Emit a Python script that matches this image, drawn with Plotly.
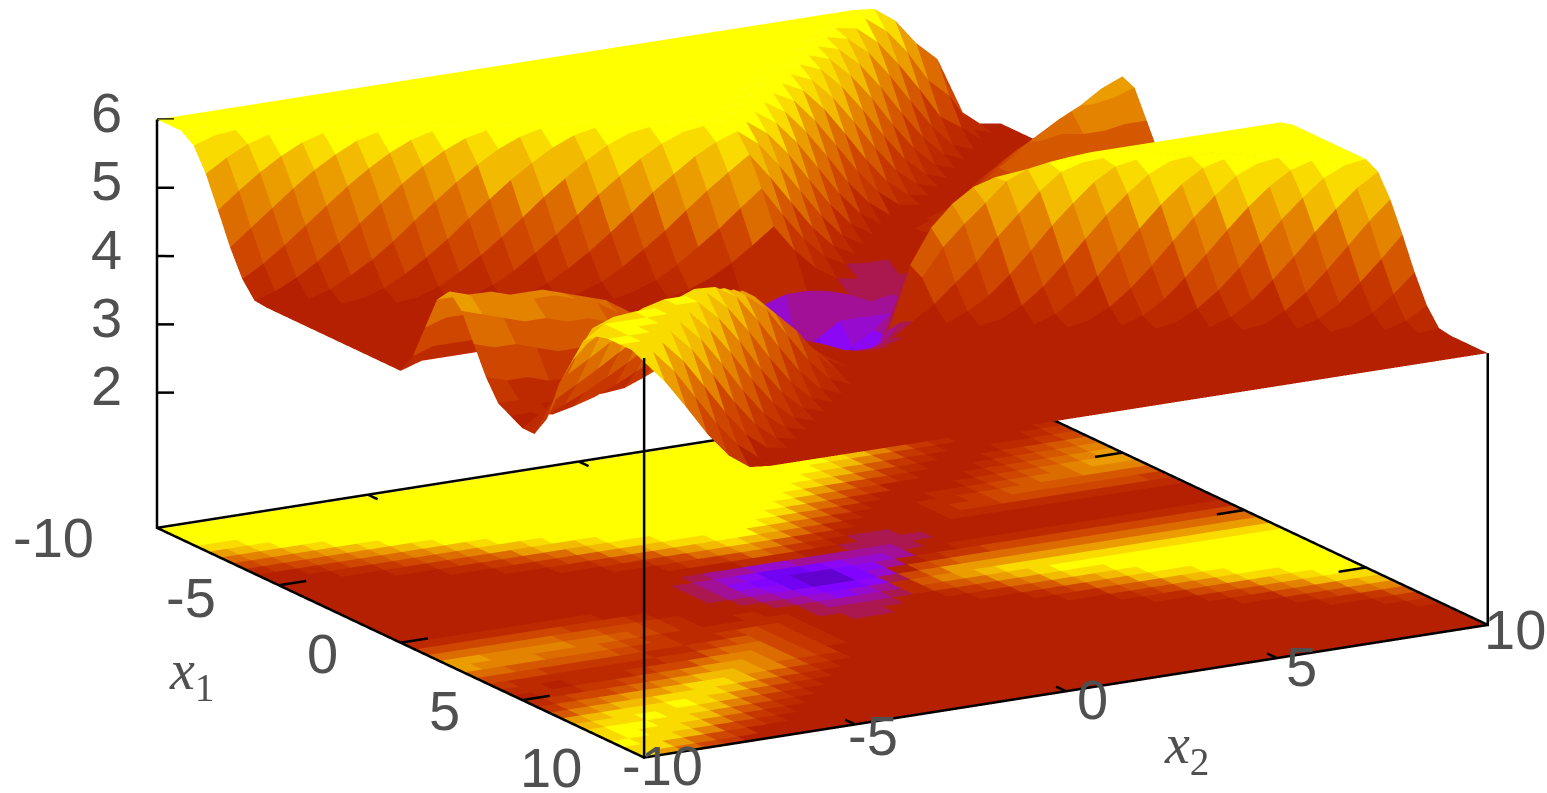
import numpy as np
import plotly.graph_objects as go

x1_grid = [-10 + 0.5 * n for n in range(41)]
x2_grid = [-10 + 0.5 * n for n in range(41)]

# one list per x2 value, each running along x1 from -10 to 10
z_by_x2 = [
 [6,6,6,5.87,5.54, 5.09,4.63,4.25,4.02,4, 4,4,4,4,4, 4,4,4,4,4, 4,4.3,4.8,5.3,5.5, 5.3,4.9,4.5,4.2,4.1, 4,4,4.3,4.9,5.3, 5.7,5.85,5.9,5.9,5.9, 5.87],
 [6,6,6,5.97,5.73, 5.33,4.87,4.43,4.11,4, 4,4,4,4,4, 4,4,4,4,4, 4.1,4.4,4.9,5.3,5.4, 5.2,4.8,4.4,4.2,4.1, 4.13,4.46,4.91,5.37,5.75, 5.9,5.9,5.9,5.9,5.83, 5.47],
 [6,6,6,6,5.88, 5.55,5.11,4.65,4.26,4.03, 4,4,4,4,4, 4,4,4,4,4, 4.1,4.4,4.9,5.2,5.4, 5.1,4.8,4.4,4.1,4.02, 4.25,4.63,5.09,5.54,5.87, 5.9,5.9,5.9,5.84,5.5, 5.05],
 [6,6,6,6,5.97, 5.74,5.35,4.89,4.45,4.12, 4,4,4,4,4, 4,4,4,4,4, 4.1,4.4,4.9,5.2,5.3, 5,4.7,4.3,4.1,4.09, 4.39,4.81,5.28,5.69,5.9, 5.9,5.9,5.86,5.52,5.07, 4.61],
 [6,6,6,6,6, 5.89,5.57,5.13,4.67,4.28, 4.03,4,4,4,4, 4,4,4,4,4, 4.1,4.5,4.9,5.2,5.2, 5,4.6,4.3,4.1,4.18, 4.55,5,5.45,5.82,5.9, 5.9,5.87,5.55,5.1,4.64, 4.25],
 [6,6,6,6,6, 5.98,5.75,5.37,4.91,4.46, 4.13,4,4,4,4, 4,4,4,4,4, 4.1,4.4,4.8,5.2,5.2, 4.9,4.6,4.3,4.1,4.31, 4.72,5.19,5.61,5.9,5.9, 5.89,5.57,5.13,4.67,4.28, 4.03],
 [6,6,6,6,6, 6,5.9,5.58,5.15,4.68, 4.29,4.03,4,4,4, 4,4,4,4,4, 4.1,4.4,4.8,5.1,5.1, 4.9,4.6,4.2,4.13,4.46, 4.91,5.37,5.75,5.9,5.9, 5.58,5.16,4.69,4.29,4.04, 4],
 [6,6,6,6,6, 6,5.98,5.76,5.39,4.93, 4.48,4.14,4,4,4, 4,4,4,4,4, 4.1,4.3,4.7,5,5, 4.8,4.5,4.2,4.25,4.63, 5.09,5.54,5.87,5.9,5.61, 5.19,4.72,4.31,4.05,4, 4],
 [6,6,6,6,6, 6,6,5.9,5.6,5.17, 4.7,4.3,4.04,4,4, 4,4,4,4,4, 4.1,4.3,4.6,4.9,4.8, 4.6,4.4,4.2,4.39,4.81, 5.28,5.69,5.85,5.63,5.22, 4.75,4.33,4.06,4,4, 4],
 [6,6,6,6,6, 6,6,5.98,5.78,5.4, 4.95,4.5,4.15,4,4, 4,4,4,4,4, 4,4.2,4.5,4.7,4.6, 4.5,4.3,4.2,4.55,5, 5.45,5.7,5.66,5.24,4.77, 4.36,4.08,4,4,4, 4],
 [6,6,6,6,6, 6,6,6,5.91,5.61, 5.19,4.72,4.31,4.05,4, 4,4,4,4,4, 4,4.2,4.4,4.5,4.4, 4.3,4.2,4.39,4.81,5.28, 5.55,5.55,5.27,4.8,4.38, 4.09,4,4,4,4, 4],
 [6,6,6,6,6, 6,6,6,5.98,5.79, 5.42,4.96,4.52,4.16,4, 4,4,4,4,4, 4,4.1,4.2,4.3,4.2, 4.2,4.25,4.63,5.09,5.4, 5.4,5.3,4.83,4.4,4.1, 4,4,4,4,4, 4],
 [6,6,6,6,6, 6,6,6,6,5.92, 5.62,5.21,4.74,4.33,4.06, 4,4,4,4,4, 4,4,4.1,4.1,4.1, 4.13,4.46,4.91,5.1,5.1, 5.1,4.86,4.42,4.11,4, 4,4,4,4,4, 4],
 [6,6,6,6,6, 6,6,6,6,5.99, 5.8,5.43,4.98,4.53,4.17, 4,4,4,4,3.95, 4,4,4,4,4.05, 4.31,4.72,4.8,4.8,4.8, 4.8,4.45,4.12,4,4, 4,4,4,4,4, 4],
 [6,6,6,6,6, 6,6,6,6,6, 5.93,5.64,5.23,4.76,4.34, 4.07,4,3.95,3.9,3.8, 3.85,3.9,4,4.01,4.18, 4.5,4.5,4.5,4.5,4.5, 4.4,4.13,4,4,4, 4,4,4,4,4, 4],
 [6,6,6,6,6, 6,6,6,6,6, 5.99,5.82,5.45,5,4.55, 4.18,4.01,3.95,3.8,3.65, 3.7,3.85,3.95,4,4.25, 4.25,4.25,4.25,4.25,4.2, 4.1,4,4,4,4, 4,4,4,4,4, 4],
 [6,6,6,6,6, 6,6,6,6,6, 6,5.94,5.66,5.25,4.77, 4.36,4.08,3.9,3.6,3.45, 3.5,3.65,3.8,3.95,4.05, 4.05,4.05,4.05,4.05,4.03, 4,4,4,4,4, 4,4,4,4,4, 4],
 [6,6,6,6,6, 6,6,6,6,6, 6,5.99,5.83,5.47,5.02, 4.57,4.2,3.9,3.4,3.15, 3.1,3.3,3.6,3.8,3.9, 4,4,4,4,4, 4,4,4,4,4, 4,4,4,4,4, 4],
 [6,6,6,6,6, 6,6,6,6,6, 6,6,5.95,5.68,5.26, 4.79,4.37,3.85,3.1,2.8, 2.9,3.1,3.4,3.6,3.7, 3.8,3.9,4,4,4, 4,4,4,4,4, 4,4,4,4,4, 4],
 [6,6,6,6,6, 6,6,6,6,6, 6,6,5.99,5.84,5.48, 5.04,4.58,3.8,3.05,2.6, 2.6,2.9,3.2,3.5,3.7, 3.8,3.9,4,4,4, 4,4,4,4,4, 4,4,4,4,4, 4],
 [6,6,6,6,6, 6,6,6,6,6, 6,6,6,5.95,5.69, 5.28,4.81,3.9,3.1,2.7, 2.4,2.6,3,3.4,3.7, 3.8,3.9,4,4,4, 4,4,4,4,4, 4,4,4,4,4, 4],
 [6,6,6,6,6, 6,6,6,6,6, 6,6,5.96,5.72,5.31, 4.85,4.41,3.9,3.3,2.9, 2.6,2.9,3.3,3.6,3.8, 3.9,4,4,4,4, 4,4,4,4,4, 4,4,4,4,4, 4],
 [6,6,6,6,6, 6,6,6,6,6, 6,5.97,5.74,5.35,4.89, 4.45,4.1,3.85,3.5,3.2, 3,3.3,3.7,3.9,4, 4,4,4,4,4, 4,4,4,4,4, 4,4,4,4,4, 4],
 [6,6,6,6,6, 6,6,6,6,6, 5.98,5.76,5.39,4.93,4.48, 4.14,3.9,3.75,3.5,3.4, 3.4,3.9,4.6,4.5,4.2, 4,4,4,4,4, 4,4,4,4,4, 4,4,4,4,4, 4],
 [6,6,6,6,6, 6,6,6,6,5.98, 5.79,5.42,4.96,4.52,4.16, 3.98,3.85,3.6,3.45,3.6, 3.9,4.7,5.1,4.9,4.46, 4.13,4,4,4,4, 4,4,4,4,4, 4,4,4,4,4, 4],
 [6,6,6,6,6, 6,6,6,5.99,5.82, 5.45,5,4.55,4.18,4, 3.95,3.75,3.65,3.7,4, 4.4,5.1,5.4,5.19,4.72, 4.31,4.05,4,4,4, 4,4,4,4,4, 4,4,4,4,4, 4],
 [6,6,6,6,6, 6,6,5.99,5.84,5.48, 5.04,4.58,4.21,4,4, 3.95,3.8,3.85,3.95,4.1, 4.6,5.2,5.6,5.45,5.04, 4.57,4.2,4.01,4,4, 4,4,4,4,4, 4,4,4,4,4, 4],
 [6,6,6,6,6, 6,6,5.86,5.52,5.07, 4.61,4.24,4.02,4,4, 3.97,3.9,3.95,4,4.2, 4.7,5.28,5.69,5.72,5.33, 4.87,4.43,4.11,4,4, 4,4,4,4,4, 4,4,4,4,4, 4],
 [6,6,6,6,6, 6,5.88,5.55,5.11,4.65, 4.26,4.03,4,4,4, 4,4,4,4.03,4.3, 4.75,5.28,5.69,5.85,5.61, 5.19,4.72,4.31,4.05,4, 4,4,4,4,4, 4,4,4,4,4, 4],
 [6,6,6,6,6, 5.9,5.58,5.15,4.68,4.29, 4.03,4,4,4.03,4.1, 4.03,4,4,4.03,4.3, 4.81,5.28,5.69,5.9,5.84, 5.47,5.03,4.57,4.2,4.01, 4,4,4,4,4, 4,4,4,4,4, 4],
 [6,6,6,6,5.91, 5.61,5.19,4.72,4.31,4.05, 4,4,4.1,4.3,4.35, 4.05,4,4,4.05,4.35, 4.81,5.28,5.69,5.93,5.93, 5.73,5.33,4.87,4.43,4.11, 4,4,4,4,4, 4,4,4,4,4, 4],
 [6,6,6,5.93,5.64, 5.23,4.76,4.34,4.07,4, 4,4.07,4.27,4.5,4.4, 4.05,4,4,4.09,4.39, 4.81,5.28,5.69,5.95,5.95, 5.91,5.6,5.17,4.71,4.3, 4.05,4,4,4,4, 4,4,4,4,4, 4],
 [6,6,5.95,5.68,5.26, 4.79,4.37,4.09,4,4, 4,4.25,4.5,4.7,4.4, 4.1,4,4,4.09,4.39, 4.81,5.28,5.69,5.95,5.97, 5.96,5.83,5.47,5.02,4.57, 4.2,4.01,4,4,4, 4,4,4,4,4, 4],
 [6,5.96,5.7,5.3,4.83, 4.4,4.1,4,4,4.02, 4.3,4.5,4.7,4.7,4.35, 4.1,4,4,4.09,4.39, 4.81,5.28,5.69,5.95,6, 6,5.97,5.72,5.32,4.86, 4.42,4.11,4,4,4, 4,4,4,4,4, 4],
 [5.97,5.73,5.33,4.87,4.43, 4.11,4,4,4.02,4.25, 4.5,4.7,4.9,4.7,4.35, 4.1,4,4,4.09,4.39, 4.81,5.28,5.69,5.95,6, 6,6,5.91,5.59,5.17, 4.7,4.3,4.04,4,4, 4,4,4,4,4, 4],
 [5.75,5.37,4.91,4.46,4.13, 4,4,4,4.2,4.45, 4.7,4.9,5,4.7,4.35, 4.1,4,4,4.09,4.39, 4.81,5.28,5.69,5.95,6, 6,6,5.99,5.83,5.46, 5.01,4.56,4.19,4.01,4, 4,4,4,4,4, 4],
 [5.37,4.91,4.46,4.13,4, 4,4,4.15,4.4,4.65, 4.85,5.05,5.05,4.75,4.4, 4.15,4,4,4.09,4.39, 4.81,5.28,5.69,5.95,6, 6,6,6,5.96,5.71, 5.31,4.85,4.41,4.11,4, 4,4,4,4,4, 4],
 [5.09,4.63,4.25,4.02,4, 4,4.1,4.35,4.6,4.8, 5.05,5.25,5,4.75,4.4, 4.15,4,4,4.09,4.39, 4.81,5.28,5.69,5.95,6, 6,6,6,6,5.9, 5.58,5.16,4.69,4.29,4.04, 4,4,4,4,4, 4],
 [4.3,4.1,4,4,4, 4,4.25,4.5,4.7,4.95, 5.2,5.3,5,4.7,4.4, 4.15,4,4,4.09,4.39, 4.81,5.28,5.69,5.95,6, 6,6,6,6,5.99, 5.82,5.45,5,4.55,4.18, 4.01,4,4,4,4, 4],
 [4.05,4,4,4,4.05, 4.25,4.5,4.7,4.95,5.15, 5.4,5.35,5.05,4.7,4.35, 4.15,4.03,4,4.09,4.39, 4.81,5.28,5.69,5.95,6, 6,6,6,6,6, 5.96,5.71,5.31,4.84,4.41, 4.1,4,4,4,4, 4],
 [4,4,4,4,4.2, 4.45,4.65,4.9,5.1,5.32, 5.53,5.45,5.05,4.65,4.3, 4.1,4.03,4,4.09,4.39, 4.81,5.28,5.69,5.95,6, 6,6,6,6,6, 6,5.9,5.58,5.15,4.68, 4.28,4.03,4,4,4, 4],
]

z_ticks = [2, 3, 4, 5, 6]
x1_ticks = [-5, 0, 5]
x2_ticks = [-5, 0, 5]
x1_labels = ["-10", "-5", "0", "5", "10"]
x2_labels = ["-10", "-5", "0", "5", "10"]
x1_label_vals = [-10, -5, 0, 5, 10]
x2_label_vals = [-10, -5, 0, 5, 10]

Z = np.array(z_by_x2, dtype=float)  # [x2, x1]
nx2, nx1 = Z.shape


def palette(v):
    t = np.clip((v - 2.0) / 4.0, 0, 1)
    r = np.sqrt(t)
    g = t ** 3
    b = np.clip(np.sin(2 * np.pi * t), 0, 1)
    return "#%02x%02x%02x" % (round(r * 255), round(g * 255), round(b * 255))


X1, X2 = np.meshgrid(x1_grid, x2_grid)
vx, vy, vz = X1.ravel(), X2.ravel(), Z.ravel()
ii, jj, kk, fc = [], [], [], []
STEP = 0.2
for a in range(nx2 - 1):
    for b in range(nx1 - 1):
        p = a * nx1 + b
        q = p + 1
        r = p + nx1
        s = r + 1
        m = np.mean([vz[p], vz[q], vz[r], vz[s]])
        col = palette(round(m / STEP) * STEP)
        for tri in ((p, q, s), (p, s, r)):
            ii.append(tri[0]); jj.append(tri[1]); kk.append(tri[2])
            fc.append(col)

flat = dict(ambient=1, diffuse=0, specular=0, roughness=1, fresnel=0)
fig = go.Figure()
fig.add_trace(go.Mesh3d(x=vx, y=vy, z=vz, i=ii, j=jj, k=kk, facecolor=fc,
                        flatshading=True, lighting=flat, hoverinfo="skip", showscale=False))
fig.add_trace(go.Mesh3d(x=vx, y=vy, z=np.zeros_like(vz), i=ii, j=jj, k=kk, facecolor=fc,
                        flatshading=True, lighting=flat, hoverinfo="skip", showscale=False))

# frame, verticals and ticks
lx, ly, lz = [], [], []


def seg(p0, p1):
    lx.extend([p0[0], p1[0], None]); ly.extend([p0[1], p1[1], None]); lz.extend([p0[2], p1[2], None])


B = 0.02
seg((-10, -10, B), (10, -10, B))
seg((10, -10, B), (10, 10, B))
seg((10, 10, B), (-10, 10, B))
seg((-10, 10, B), (-10, -10, B))
seg((-10, -10, 0), (-10, -10, float(Z[0, 0])))
seg((10, -10, 0), (10, -10, float(Z[0, -1])))
seg((10, 10, 0), (10, 10, float(Z[-1, -1])))
for t in x1_ticks:
    seg((t, -10, B), (t, -9.35, B))
    seg((t, 10, B), (t, 9.35, B))
for t in x2_ticks:
    seg((10, t, B), (9.6, t, B))
    seg((-10, t, B), (-9.6, t, B))
for t in z_ticks:
    seg((-10, -10, t), (-9.82, -9.7, t))
fig.add_trace(go.Scatter3d(x=lx, y=ly, z=lz, mode="lines", line=dict(color="black", width=5),
                           hoverinfo="skip", showlegend=False))

GRAY = "#505050"
SANS = dict(family="Liberation Sans, Arial, sans-serif", size=56, color=GRAY)
SERIF = dict(family="Liberation Serif, DejaVu Serif, serif", size=56, color=GRAY)
ann = []


def label(x, y, z, text, dx, dy, font=SANS):
    ann.append(dict(x=x, y=y, z=z, text=text, showarrow=False, xshift=dx, yshift=-dy,
                    xanchor="center", yanchor="middle", font=font))


for t in z_ticks:
    label(-10, -10, t, str(t), -50, -7)
x1_shift = [(-103, 8), (-88, 11), (-78, 9), (-78, 9), (-93, 9)]
x2_shift = [(18, 7), (18, 10), (27, 7), (25, 7), (27, 3)]
for v, s, d in zip(x1_label_vals, x1_labels, x1_shift):
    label(v, -10, 0, s, d[0], d[1])
for v, s, d in zip(x2_label_vals, x2_labels, x2_shift):
    label(10, v, 0, s, d[0], d[1])
label(0, -10, 0, "<i>x</i><sub>1</sub>", -209, 30, SERIF)
label(10, 0, 0, "<i>x</i><sub>2</sub>", 121, 55, SERIF)

phi = np.radians(15.8)
view = np.array([np.cos(phi) * 0.866, -np.cos(phi) * 0.5, np.sin(phi)])
DIST = 4.0
center = np.array([-0.0618, -0.1067, -0.062])
eye = center + DIST * view

fig.update_layout(
    width=1547, height=793,
    margin=dict(l=0, r=0, t=0, b=0),
    paper_bgcolor="white",
    showlegend=False,
    scene=dict(
        domain=dict(x=[0, 1], y=[0, 1]),
        xaxis=dict(visible=False, range=[-10, 10]),
        yaxis=dict(visible=False, range=[-10, 10]),
        zaxis=dict(visible=False, range=[0, 6]),
        aspectmode="manual",
        aspectratio=dict(x=2.457, y=2.457, z=1.074),
        camera=dict(projection=dict(type="orthographic"),
                    up=dict(x=0, y=0, z=1),
                    center=dict(x=center[0], y=center[1], z=center[2]),
                    eye=dict(x=eye[0], y=eye[1], z=eye[2])),
        annotations=ann,
    ),
)
fig.write_html("out.html", config={"displayModeBar": False},
               post_script="document.body.style.margin='0';document.documentElement.style.overflow='hidden';")
